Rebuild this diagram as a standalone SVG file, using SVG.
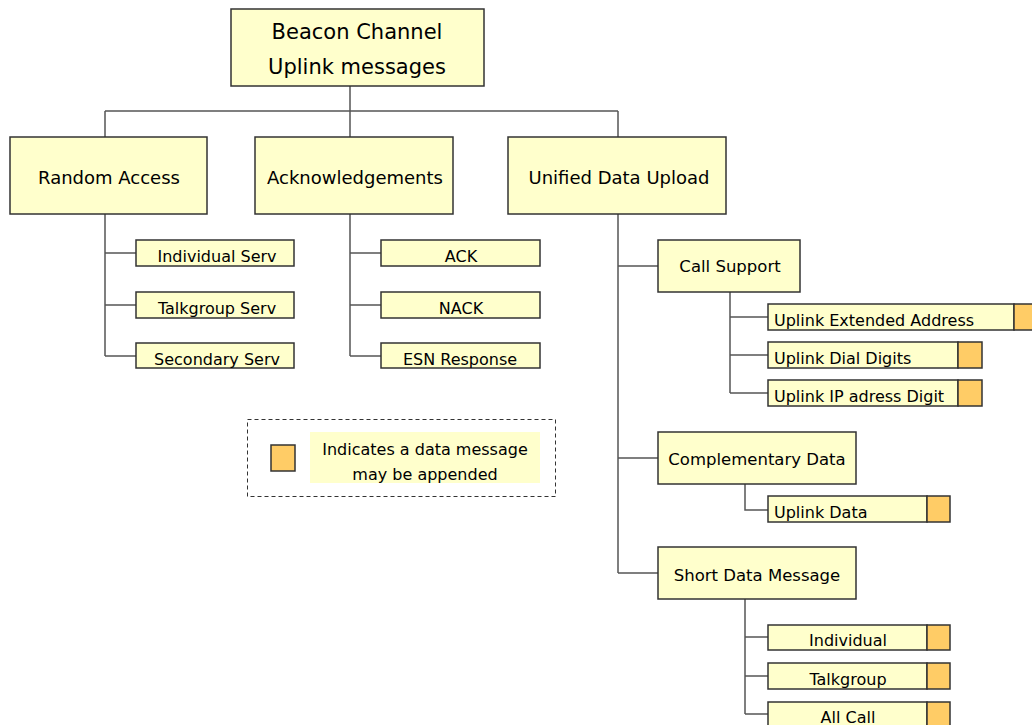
<svg xmlns="http://www.w3.org/2000/svg" width="1032" height="725" viewBox="0 0 1032 725">
<style>
.box{fill:#FFFFCC;stroke:#333;stroke-width:1.5}
.dat{fill:#FFCC66;stroke:#333;stroke-width:1.5}
.t{font-family:"DejaVu Sans","Liberation Sans",sans-serif;fill:#000}
.big{font-size:21px;text-anchor:middle}
.mid{font-size:18px;text-anchor:middle}
.sm{font-size:16px}
.md{font-size:16.5px}
.c{text-anchor:middle}
#connectors path{fill:none;stroke:#555;stroke-width:1.5}
</style>
<rect width="1032" height="725" fill="#fff"/>
<g id="connectors">
<path d="M350 86V111M105 111H618M105 111V137M350 111V137M618 111V137"/>
<path d="M105 214V356M105 253H136M105 305H136M105 356H136"/>
<path d="M350 214V356M350 253H381M350 305H381M350 356H381"/>
<path d="M618 214V573M618 266H658M618 458H658M618 573H658"/>
<path d="M730 292V393M730 317H768M730 355H768M730 393H768"/>
<path d="M745 484V510H768"/>
<path d="M745 599V714M745 637H768M745 676H768M745 714H768"/>
</g>
<g id="root"><rect class="box" x="231" y="9" width="253" height="77"/><text class="t big" x="357" y="39">Beacon Channel</text><text class="t big" x="357" y="74">Uplink messages</text></g>
<g id="random-access"><rect class="box" x="10" y="137" width="197" height="77"/><text class="t mid" x="109" y="184">Random Access</text></g>
<g id="acknowledgements"><rect class="box" x="255" y="137" width="198" height="77"/><text class="t mid" x="355" y="184">Acknowledgements</text></g>
<g id="unified-data-upload"><rect class="box" x="508" y="137" width="218" height="77"/><text class="t mid" x="619" y="184">Unified Data Upload</text></g>
<g id="individual-serv"><rect class="box" x="136" y="240" width="158" height="26"/><text class="t sm c" x="217" y="262">Individual Serv</text></g>
<g id="talkgroup-serv"><rect class="box" x="136" y="292" width="158" height="26"/><text class="t sm c" x="217" y="314">Talkgroup Serv</text></g>
<g id="secondary-serv"><rect class="box" x="136" y="343" width="158" height="25"/><text class="t sm c" x="217" y="365">Secondary Serv</text></g>
<g id="ack"><rect class="box" x="381" y="240" width="159" height="26"/><text class="t sm c" x="461" y="262">ACK</text></g>
<g id="nack"><rect class="box" x="381" y="292" width="159" height="26"/><text class="t sm c" x="461" y="314">NACK</text></g>
<g id="esn-response"><rect class="box" x="381" y="343" width="159" height="25"/><text class="t sm c" x="460" y="365">ESN Response</text></g>
<g id="call-support"><rect class="box" x="658" y="240" width="142" height="52"/><text class="t md c" x="730" y="272">Call Support</text></g>
<g id="uplink-extended-address"><rect class="box" x="768" y="304" width="246" height="26"/><text class="t sm" x="774" y="326">Uplink Extended Address</text><rect class="dat" x="1014" y="304" width="26" height="26"/></g>
<g id="uplink-dial-digits"><rect class="box" x="768" y="342" width="190" height="26"/><text class="t sm" x="774" y="364">Uplink Dial Digits</text><rect class="dat" x="958" y="342" width="24" height="26"/></g>
<g id="uplink-ip-digits"><rect class="box" x="768" y="380" width="190" height="26"/><text class="t sm" x="774" y="402">Uplink IP adress Digit</text><rect class="dat" x="958" y="380" width="24" height="26"/></g>
<g id="complementary-data"><rect class="box" x="658" y="432" width="198" height="52"/><text class="t md c" x="757" y="465">Complementary Data</text></g>
<g id="uplink-data"><rect class="box" x="768" y="496" width="159" height="26"/><text class="t sm" x="774" y="518">Uplink Data</text><rect class="dat" x="927" y="496" width="23" height="26"/></g>
<g id="short-data-message"><rect class="box" x="658" y="547" width="198" height="52"/><text class="t md c" x="757" y="581">Short Data Message</text></g>
<g id="individual"><rect class="box" x="768" y="625" width="159" height="25"/><text class="t sm c" x="848" y="646">Individual</text><rect class="dat" x="927" y="625" width="23" height="25"/></g>
<g id="talkgroup"><rect class="box" x="768" y="663" width="159" height="26"/><text class="t sm c" x="848" y="685">Talkgroup</text><rect class="dat" x="927" y="663" width="23" height="26"/></g>
<g id="all-call"><rect class="box" x="768" y="702" width="159" height="30"/><text class="t sm c" x="848" y="723">All Call</text><rect class="dat" x="927" y="702" width="23" height="30"/></g>
<g id="legend"><rect x="247.5" y="419.5" width="308" height="77" fill="none" stroke="#333" stroke-width="1" stroke-dasharray="4,3"/><rect class="dat" x="271" y="445" width="24" height="26"/><rect x="310" y="432" width="230" height="51" fill="#FFFFCC"/><text class="t sm c" x="425" y="455">Indicates a data message</text><text class="t sm c" x="425" y="480">may be appended</text></g>
</svg>
